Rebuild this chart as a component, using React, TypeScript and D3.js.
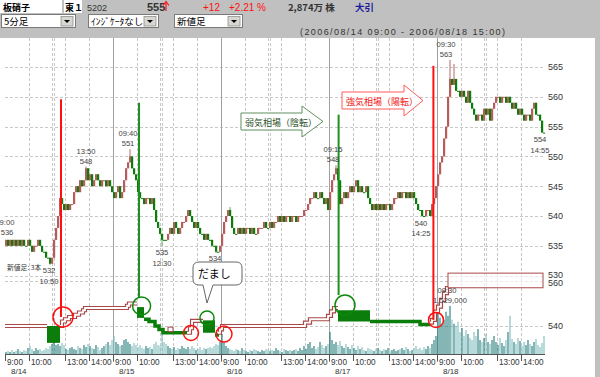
import React from 'react';
import * as d3 from 'd3';

const dayLabels = ['8/14', '8/15', '8/16', '8/17', '8/18'];
const timeTicks = [
  { bar: 0, label: '9:00' },
  { bar: 12, label: '10:00' },
  { bar: 30, label: '13:00' },
  { bar: 42, label: '14:00' },
];
const gridBars = [12, 23.5, 24.5, 30, 42];
const priceTicks = [565, 560, 555, 550, 545, 540, 535, 530];
const lowerTicks = [560, 540];
const firstOpen = 535;

const close0814 = [536,535,536,535,536, 535,536,535,536,535, 535,536,535,534,535, 535,536,535,534,534, 533,533,532,533, 536,538,540, 543,542, 541,542,541,542,542, 544,545,544, 546,545,546,548, 546,547,545,546,547,546, 545,546,546,545, 546,545,544];
const close0815 = [543,544,545,543,544, 546,548,549,550, 548,547,546,544, 543,543,542,543,543,542,543, 541,539,538,537, 536,536,536,537, 538,537,539,538,537,538,539, 539,540,541,540, 539,538,539,538,537, 537,536,537,536,536, 535,535,534,534,535];
const close0816 = [537,539,540,541,540, 538,537,537,538,537, 538,537,538,538,537, 538,537,537,538,538, 538,539,538,538, 539,538,539,539,540,539, 540,539,540,540,539,540, 540,539,540,540,540, 541,541,542,543, 543,544,543,543,544, 543,542,543,541];
const close0817 = [544,546,547,548, 546,542, 543,544,543,544,545, 544,545,546,544, 545,544,544,545,543, 542,541,542,541,542, 541,542,541,542,542,541,542, 543,543,544,543,544,544,543, 544,543,544,543, 542,541,541,540,540,541, 541,540,542,543,545];
const close0818 = [547,549,550, 553,555,560, 563, 562,563,561, 561,560,561,560, 559,561,559,558, 557,556,557,557,556, 558,557,558,556, 558,559,560,560,559, 560,560,559,560,559, 558,559,558,557,558, 557,556,557,557,556, 558,559,557, 557,556,554,554];

const extremes = [
  { bar: 22, low: 531.8 },
  { bar: 40, high: 548.3 },
  { bar: 62, high: 551.2 },
  { bar: 78, low: 535 },
  { bar: 105, low: 533.8 },
  { bar: 112, high: 541.5 },
  { bar: 165, high: 548.5 },
  { bar: 209, low: 539.8 },
  { bar: 222, high: 566.2 },
  { bar: 224, high: 565.5 },
];

const vol0814 = [64,96,64,128,64,96,160,96,64,128,96,192, 256,160,96,192,128,160,96,128,192,160,256,320, 384,288,320,256,352,288, 160,128,192,224,160,128,256,192,160,288,224, 320,256,192,160,288,224,128,192,256,320,384,288,448];
const vol0815 = [576,384,320,256,288, 448,480,384,320,256,352,288, 224,288,192,160,256,192,224,160, 320,384,288,256,832,384,320,256, 192,160,224,128,192,160,256,192,160,224, 160,256,192,128,160,224,128,192,160,192, 224,192,256,320,288,384];
const vol0816 = [640,384,256,192,160, 128,96,160,128,96,192,128,96,64,128, 96,160,128,96,64,128,96,160,128,96, 128,96,192,128,96,64,160,128,96,128, 96,128,160,96,192,128,256,160,320,384, 192,256,160,224,384,288,192,256,320];
const vol0817 = [704,448,320,384,288, 416,256,192,320,224,160,288,192,128,256, 160,224,128,96,192,160,128,96,160,192, 128,96,160,128,192,96,128,160,96,128, 160,192,128,224,160,96,128,192,256,160, 192,128,224,160,256,192,320,448,576];
const vol0818 = [1280,1152,960,1088,1344, 1216,1529,1088,960,896,1024,704,832,576,768, 640,512,448,704,576,800,448,384,512,640, 384,320,448,576,384,288,512,352,256,448, 704,1216,480,384,320,512,416,256,384,288, 448,320,256,384,480,288,224,352,576];

// 新値足 (3本): [bar, price] steps
const upRuns = [
  [[0, 540], [21, 540]],
  [[27.5, 540], [28.5, 542], [30, 543], [32, 544], [35, 545], [37, 546], [39, 547], [40, 548], [61, 549], [62, 550], [66, 550]],
  [[91, 537], [92.5, 539], [93.5, 542.3], [99, 542.3]],
  [[106.5, 537], [107.5, 538.5], [108.5, 540], [150, 541.5], [152.5, 543], [161.5, 544.5], [163, 546.5], [164.5, 548], [166.5, 548]],
  [[212.5, 541.5], [213.5, 542.7], [215, 546.4], [216.5, 548.6], [218, 551.6], [219.5, 554.6], [221, 556.9], [221.5, 556.9]],
];
const downRuns = [
  [[69.5, 543], [72, 542], [75, 540], [77, 538.5], [79, 537], [91, 537]],
  [[105, 536], [107, 536]],
  [[182.5, 542], [207.5, 540.7], [212.5, 540.7]],
];
const downBricks = [
  { from: 21, to: 27.5, top: 540, bottom: 532.5 },
  { from: 66, to: 69.5, top: 548.4, bottom: 543.6 },
  { from: 99, to: 105, top: 542.5, bottom: 537 },
  { from: 166.5, to: 182.5, top: 547, bottom: 542 },
];
const upBricks = [
  { from: 81.5, to: 84, top: 539.5, bottom: 537.5 },
  { from: 221.5, to: 269, top: 563.5, bottom: 557 },
];
const signals = [
  { bar: 28, top: 559.6, kind: 'buy', cBar: 29, cPrice: 544, r: 10 },
  { bar: 67, top: 559, kind: 'sell', cBar: 68.3, cPrice: 548.9, r: 9 },
  { bar: 166.8, top: 557, kind: 'sell', cBar: 170, cPrice: 549.3, r: 10 },
  { bar: 214.2, top: 565.2, kind: 'buy', cBar: 215.5, cPrice: 542.7, r: 7.5 },
];
const extraCircles = [
  { bar: 93, price: 536.9, r: 7.5, kind: 'buy' },
  { bar: 101, price: 543.6, r: 7, kind: 'sell' },
  { bar: 109.5, price: 536.4, r: 8, kind: 'buy' },
];
const callouts = [
  { bar: 0, price: 536.3, lines: ['9:00', '536'], side: 'above', dx: 1 },
  { bar: 22, price: 532, lines: ['532', '10:50'], side: 'below', dx: -1 },
  { bar: 40, price: 548.3, lines: ['13:50', '548'], side: 'above', dx: 0 },
  { bar: 62, price: 551.2, lines: ['09:40', '551'], side: 'above', dx: -2 },
  { bar: 78, price: 535, lines: ['535', '12:30'], side: 'below', dx: 0 },
  { bar: 105, price: 534, lines: ['534'], side: 'below', dx: -1 },
  { bar: 165, price: 548.5, lines: ['09:15', '548'], side: 'above', dx: -3 },
  { bar: 209, price: 540, lines: ['540', '14:25'], side: 'below', dx: -3 },
  { bar: 222, price: 566.2, lines: ['09:30', '563'], side: 'above', dx: -4 },
  { bar: 269, price: 554, lines: ['554', '14:55'], side: 'below', dx: -4 },
];

const LAT = "'Liberation Sans', Arial, sans-serif";
const JP = "'Noto Sans CJK JP', 'Noto Sans', sans-serif";
const RED = '#ff1010';
const GREEN = '#0a7d0a';

export default function App() {
  const closes = [...close0814, ...close0815, ...close0816, ...close0817, ...close0818];
  const vols = [...vol0814, ...vol0815, ...vol0816, ...vol0817, ...vol0818];
  const nBars = closes.length;

  const x = d3.scaleLinear().domain([0, nBars]).range([5, 545]);
  const y = d3.scaleLinear().domain([530, 565]).range([275.6, 67]);
  const y2 = d3.scaleLinear().domain([540, 560]).range([326, 281]);
  const yv = d3.scaleLinear().domain([0, 1529]).range([354, 306]);

  let prevUp = true;
  const bars = closes.map((c, i) => {
    const o = i === 0 ? firstOpen : closes[i - 1];
    let h = Math.max(o, c);
    let l = Math.min(o, c);
    const ex = extremes.find((e) => e.bar === i);
    if (ex && ex.high !== undefined) h = ex.high;
    if (ex && ex.low !== undefined) l = ex.low;
    const up = c > o ? true : c < o ? false : prevUp;
    prevUp = up;
    return { i, o, c, h, l, up, v: vols[i] };
  });

  const step = d3
    .line<number[]>()
    .x((d) => x(d[0]))
    .y((d) => y2(d[1]))
    .curve(d3.curveStepAfter);

  const days = dayLabels.map((lab, d) => ({ lab, start: d * 54 }));

  return (
    <svg width={600} height={377} style={{ position: 'absolute', left: 0, top: 0, background: '#c0c0c0' }}>
      {/* header */}
      <rect x={0} y={0} width={600} height={38} fill="#c0c0c0" />
      <rect x={0} y={0} width={62} height={13} fill="#fff" />
      <text x={3} y={11} fontFamily={JP} fontWeight="bold" fontSize={9} fill="#000">板硝子</text>
      <rect x={64} y={0} width={18} height={13} fill="#fff" />
      <text x={65} y={11} fontFamily={JP} fontWeight="bold" fontSize={9} fill="#000">東１</text>
      <text x={87} y={10.5} fontFamily={LAT} fontSize={9} fill="#333">5202</text>
      <text x={147} y={11} fontFamily={LAT} fontWeight="bold" fontSize={11} fill="#333">555</text>
      <line x1={166} y1={11} x2={166} y2={3} stroke={RED} strokeWidth={1.2} />
      <path d="M163,5.5 L166,1.5 L169,5.5" fill="none" stroke={RED} strokeWidth={1.2} />
      <text x={203} y={10.5} fontFamily={LAT} fontSize={10} fill={RED}>+12</text>
      <text x={229} y={10.5} fontFamily={LAT} fontSize={10} fill={RED}>+2.21 %</text>
      <text x={288} y={10.5} fontFamily={JP} fontWeight="bold" fontSize={9.5} fill="#333">2,874万 株</text>
      <text x={355} y={10.5} fontFamily={JP} fontWeight="bold" fontSize={9.5} fill="#1c1c9c">大引</text>

      {[
        { x0: 1, x1: 75, label: '5分足' },
        { x0: 88, x1: 158, label: 'ｲﾝｼﾞｹｰﾀなし' },
        { x0: 174, x1: 242, label: '新値足' },
      ].map((b) => (
        <g key={b.label}>
          <rect x={b.x0 + 0.5} y={14.5} width={b.x1 - b.x0} height={13} fill="#fff" stroke="#7a7a7a" />
          <text x={b.x0 + 3} y={24.5} fontFamily={JP} fontSize={9.5} fill="#000">{b.label}</text>
          <rect x={b.x1 - 14} y={16.5} width={12} height={9.5} fill="#d8d6d0" stroke="#909090" strokeWidth={0.8} />
          <path d={`M${b.x1 - 11},20 L${b.x1 - 5},20 L${b.x1 - 8},23 Z`} fill="#000" />
        </g>
      ))}
      <text x={300} y={35} fontFamily={LAT} fontSize={9} fill="#333" textLength={205} lengthAdjust="spacing">(2006/08/14 09:00 - 2006/08/18 15:00)</text>

      {/* plot background */}
      <rect x={0} y={38} width={595} height={339} fill="#fff" />

      {/* horizontal grid */}
      {priceTicks.map((p) => (
        <line key={'h' + p} x1={5} x2={545} y1={Math.round(y(p)) + 0.5} y2={Math.round(y(p)) + 0.5} stroke="#c8c8c8" strokeDasharray="3,2" />
      ))}
      {lowerTicks.map((p) => (
        <line key={'hl' + p} x1={5} x2={545} y1={Math.round(y2(p)) + 0.5} y2={Math.round(y2(p)) + 0.5} stroke="#c8c8c8" strokeDasharray="3,2" />
      ))}
      {/* vertical grid */}
      {days.map((d) =>
        gridBars.map((g) => (
          <line key={'v' + d.start + '_' + g} x1={Math.round(x(d.start + g)) + 0.5} x2={Math.round(x(d.start + g)) + 0.5} y1={38} y2={354} stroke="#c8c8c8" strokeDasharray="3,2" />
        ))
      )}
      {days.slice(1).map((d) => (
        <line key={'day' + d.start} x1={Math.round(x(d.start)) + 0.5} x2={Math.round(x(d.start)) + 0.5} y1={38} y2={362} stroke="#a0a0a0" />
      ))}

      {/* volume */}
      {bars.map((b) => (
        <line key={'v' + b.i} x1={x(b.i) + 1} x2={x(b.i) + 1} y1={354} y2={yv(b.v)} stroke={b.up ? '#217a7a' : '#7fbcbc'} strokeWidth={1.1} />
      ))}

      {/* candles */}
      {bars.map((b) => {
        const cx = x(b.i) + 1;
        const top = y(Math.max(b.o, b.c));
        const bot = y(Math.min(b.o, b.c));
        return (
          <g key={'c' + b.i}>
            <line x1={cx} x2={cx} y1={y(b.h)} y2={y(b.l)} stroke={b.up ? '#b06a6a' : '#5fae5f'} strokeWidth={1} />
            <rect x={x(b.i)} y={top} width={2.2} height={Math.max(1, bot - top)} fill={b.up ? '#b75c5c' : GREEN} />
          </g>
        );
      })}

      {/* 新値足 lower panel */}
      {downBricks.map((k, i) => (
        <rect key={'db' + i} x={x(k.from)} y={y2(k.top)} width={x(k.to) - x(k.from)} height={y2(k.bottom) - y2(k.top)} fill={GREEN} />
      ))}
      {downRuns.map((r, i) => (
        <path key={'dr' + i} d={step(r) || ''} fill="none" stroke={GREEN} strokeWidth={3.5} />
      ))}
      {upRuns.map((r, i) => (
        <g key={'ur' + i}>
          <path d={step(r) || ''} fill="none" stroke="#a84848" strokeWidth={4.2} />
          <path d={step(r) || ''} fill="none" stroke="#fff" strokeWidth={1.8} />
        </g>
      ))}
      {upBricks.map((k, i) => (
        <rect key={'ub' + i} x={x(k.from)} y={y2(k.top)} width={x(k.to) - x(k.from)} height={y2(k.bottom) - y2(k.top)} fill="#fff" fillOpacity={0.6} stroke="#a84848" strokeWidth={1} />
      ))}

      {/* signals */}
      {signals.map((s, i) => (
        <line key={'s' + i} x1={x(s.bar)} x2={x(s.bar)} y1={y(s.top)} y2={y2(s.cPrice) + (s.kind === 'buy' ? 0 : -s.r)} stroke={s.kind === 'buy' ? RED : '#1f8f1f'} strokeWidth={2} />
      ))}
      {signals.map((s, i) => (
        <circle key={'sc' + i} cx={x(s.cBar)} cy={y2(s.cPrice)} r={s.r} fill="none" stroke={s.kind === 'buy' ? RED : '#0c8a0c'} strokeWidth={1.5} />
      ))}
      {extraCircles.map((c, i) => (
        <circle key={'ec' + i} cx={x(c.bar)} cy={y2(c.price)} r={c.r} fill="none" stroke={c.kind === 'buy' ? RED : '#0c8a0c'} strokeWidth={1.5} />
      ))}

      {/* axis */}
      <line x1={5} x2={545} y1={354.5} y2={354.5} stroke="#555" />
      {days.map((d) => (
        <g key={'ax' + d.start}>
          {timeTicks.map((t) => (
            <g key={t.label}>
              <line x1={Math.round(x(d.start + t.bar)) + 0.5} x2={Math.round(x(d.start + t.bar)) + 0.5} y1={355} y2={361} stroke="#555" />
              <text x={x(d.start + t.bar) + 2} y={365} fontFamily={LAT} fontSize={8.2} fill="#333">{t.label}</text>
            </g>
          ))}
          <text x={x(d.start) + 6} y={374} fontFamily={LAT} fontSize={8} fill="#333">{d.lab}</text>
        </g>
      ))}
      {priceTicks.map((p) => (
        <text key={'pt' + p} x={548} y={y(p) + (p === 530 ? 2.6 : 3.3)} fontFamily={LAT} fontSize={9} fill="#333">{p}</text>
      ))}
      {lowerTicks.map((p) => (
        <text key={'lt' + p} x={548} y={y2(p) + (p === 560 ? 4.6 : 3.3)} fontFamily={LAT} fontSize={9} fill="#333">{p}</text>
      ))}

      {/* callouts */}
      {callouts.map((c, i) =>
        c.lines.map((ln, k) => {
          const base = c.side === 'above' ? y(c.price) - 13 + k * 10 : y(c.price) + 9.5 + k * 10.5;
          return (
            <text key={'co' + i + '_' + k} x={x(c.bar) + 1 + c.dx} y={base} textAnchor="middle" fontFamily={LAT} fontSize={7.6} fill="#444">{ln}</text>
          );
        })
      )}
      <text x={x(222) + 1 - 3} y={yv(1529) - 13} textAnchor="middle" fontFamily={LAT} fontSize={7.6} fill="#444">09:30</text>
      <text x={x(222) + 1} y={yv(1529) - 3} textAnchor="middle" fontFamily={LAT} fontSize={7.6} fill="#444">1,529,000</text>
      <text x={7} y={270} fontFamily={JP} fontSize={6.8} fill="#333">新値足: 3本</text>

      {/* arrows */}
      <path d="M241,113 H302 V106 L323,121.5 L302,137 V130 H241 Z" fill="#fff" stroke="#5f8f5f" strokeWidth={1} />
      <text x={245} y={126} fontFamily={JP} fontSize={9} fill="#244c24">弱気相場（陰転）</text>
      <path d="M342,92 H404 V85 L423,100.5 L404,116 V109 H342 Z" fill="#fff" stroke="#ff5a5a" strokeWidth={1} />
      <text x={346} y={104.5} fontFamily={JP} fontSize={9} fill="#f01010">強気相場（陽転）</text>

      {/* だまし bubble */}
      <path d="M199,262 H236 Q242,262 242,268 V279 Q242,285 236,285 H213 L207,303 L203,285 H199 Q193,285 193,279 V268 Q193,262 199,262 Z" fill="#fff" stroke="#666" strokeWidth={1} />
      <text x={198} y={278} fontFamily={JP} fontSize={11} fill="#000">だまし</text>
    </svg>
  );
}
